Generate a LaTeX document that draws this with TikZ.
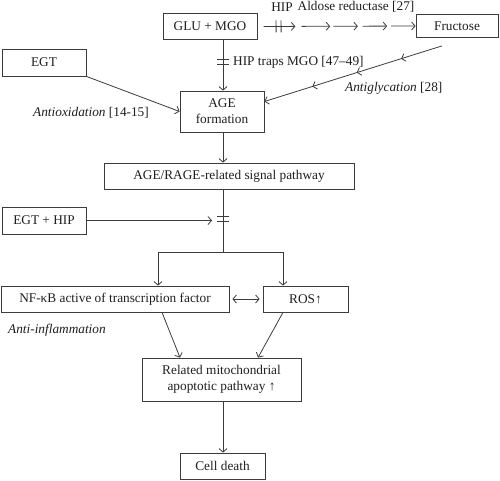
\documentclass[tikz,border=0pt]{standalone}
\usepackage{fontspec}
\setmainfont{Liberation Serif}[
  UprightFont={Liberation Serif},
  ItalicFont={Liberation Serif Italic},
  BoldFont={Liberation Serif Bold}]
\usetikzlibrary{calc,arrows.meta,decorations.markings}
\definecolor{linegray}{RGB}{60,60,60}
\definecolor{textgray}{RGB}{30,30,30}

\begin{document}
\begin{tikzpicture}[x=1pt,y=-1pt,
  >={Straight Barb[length=3.5pt,width=8pt]},
  every node/.style={font=\fontsize{13.3}{16}\selectfont, text=textgray},
  box/.style={draw=linegray, line width=0.8pt, align=center, inner sep=2pt},
  wire/.style={draw=linegray, line width=0.8pt},
  link/.style={wire, ->},
  note/.style={inner sep=0pt, anchor=west},
  blocked/.style={postaction={decorate}, decoration={markings,
    mark=at position #1 with {\draw[-,linegray,line width=0.8pt] (-2.5,-6) -- (-2.5,6) (2.5,-6) -- (2.5,6);}}},
  midtips/.style={postaction={decorate}, decoration={markings,
    mark=at position 0.23 with {\arrow[linegray,line width=0.8pt]{>}},
    mark=at position 0.48 with {\arrow[linegray,line width=0.8pt]{>}},
    mark=at position 0.73 with {\arrow[linegray,line width=0.8pt]{>}}}}]
  \useasboundingbox (0,0) rectangle (500,480);
  \coordinate (axis) at (223,0);

  % boxes
  \node[box, minimum width=94pt, minimum height=26pt] (glu) at (210,26.5) {GLU + MGO};
  \node[box, minimum width=82pt, minimum height=23pt] (fru) at (457,26) {Fructose};
  \node[box, minimum width=84pt, minimum height=27pt] (egt) at (44,62.5) {EGT};
  \node[box, minimum width=84pt, minimum height=41pt] (age) at (222,111.5) {AGE\\formation};
  \node[box, minimum width=250pt, minimum height=26pt] (rage) at (229,176) {AGE/RAGE-related signal pathway};
  \node[box, minimum width=84pt, minimum height=27pt] (egthip) at (44,220.5) {EGT + HIP};
  \node[box, minimum width=228pt, minimum height=26pt] (nf) at (115,299) {NF-κB active of transcription factor};
  \node[box, minimum width=85pt, minimum height=26pt] (ros) at (305.5,299) {ROS↑};
  \node[box, minimum width=159pt, minimum height=43pt] (rel) at (221.5,379.5) {Related mitochondrial\\apoptotic pathway ↑};
  \node[box, minimum width=85pt, minimum height=26pt] (dead) at (222.5,466) {Cell death};

  % labels
  \node (hip) at (282,7) {HIP};
  \node (aldose) at (356,7) {Aldose reductase [27]};
  \node[note] (traps) at (233,62) {HIP traps MGO [47–49]};
  \node[note] (antiglyc) at (345,88) {\textit{Antiglycation} [28]};
  \node[note] (antiox) at (33,113) {\textit{Antioxidation} [14-15]};
  \node[note] (antiinfl) at (8,330) {\textit{Anti-inflammation}};

  % connectors
  \draw[link, blocked=0.47] ($(glu.east)!0.04!(fru.west)$) -- ($(glu.east)!0.24!(fru.west)$);
  \foreach \s/\e in {0.28/0.46, 0.48/0.635, 0.665/0.82, 0.845/1}
    \draw[link] ($(glu.east)!\s!(fru.west)$) -- ($(glu.east)!\e!(fru.west)$);
  \draw[link, blocked=0.44] (glu.south -| axis) -- (age.north -| axis);
  \draw[link, midtips] ($(fru.south)+(-15,8)$) -- ($(age.east)+(0,-10)$);
  \draw[link] (egt.south east) -- (age.west);
  \draw[link] (age.south -| axis) -- (rage.north -| axis);
  \coordinate (split) at (223,252);
  \draw[wire, blocked=0.47] (rage.south -| axis) -- (split);
  \draw[link] (egthip.east) -- (212,220.5);
  \draw[link] (split) -| ([xshift=43pt]nf.north);
  \draw[link] (split) -| ([xshift=-22.5pt]ros.north);
  \draw[link, <->, shorten <=3pt, shorten >=3pt] (nf.east) -- (ros.west);
  \draw[link] ([xshift=47pt]nf.south) -- ([xshift=-41.5pt]rel.north);
  \draw[link] ([xshift=-22.5pt]ros.south) -- ([xshift=36.5pt]rel.north);
  \draw[link] (rel.south -| axis) -- (dead.north -| axis);
\end{tikzpicture}
\end{document}
